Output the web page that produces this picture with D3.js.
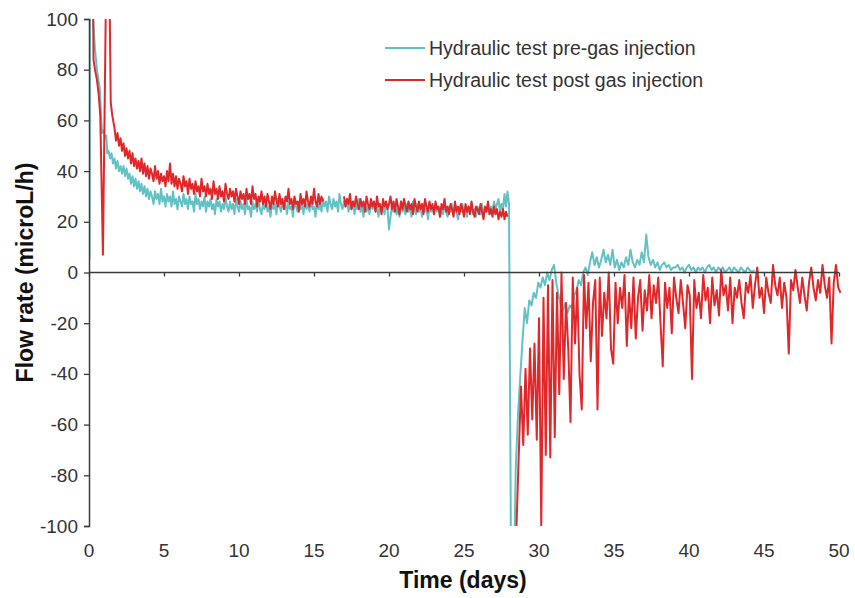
<!DOCTYPE html>
<html>
<head>
<meta charset="utf-8">
<script src="https://cdn.jsdelivr.net/npm/d3@7"></script>
<style>
  body { margin: 0; background: #fff; }
  svg { display: block; font-family: "Liberation Sans", Arial, sans-serif; }
</style>
</head>
<body>
<div id="chart"></div>
<script>
  'use strict';

  // Tick labels
  var xTicks = [0, 5, 10, 15, 20, 25, 30, 35, 40, 45, 50];
  var yTicks = [100, 80, 60, 40, 20, 0, -20, -40, -60, -80, -100];

  var seriesNames = ["Hydraulic test pre-gas injection", "Hydraulic test post gas injection"];

  // Pre-gas injection (teal). Early part read point by point (days, microL/h).
  var preEarlyT = [0.03, 0.07, 0.2, 0.27, 0.4, 0.53, 0.63, 0.73, 0.8, 0.87, 0.97, 1.07, 1.15, 1.22];
  var preEarlyV = [5, 130, 130, 100, 88, 80, 76, 72, 62, 55, 56, 53, 54, 47];

  // Pre-gas plateau, one reading every 0.1 day from day 1.3
  var prePlateauStart = 1.3;
  var prePlateau = [
    48, 45, 47, 43, 45, 41, 44, 40, 42, 39,
    42, 38, 41, 37, 39, 35, 38, 34, 37, 33,
    36, 32, 35, 31, 34, 30, 33, 29, 32, 30,
    27, 32, 29, 31, 27, 33, 28, 30, 26, 31,
    28, 30, 26, 32, 27, 29, 25, 30, 28, 26,
    31, 27, 29, 25, 30, 27, 28, 24, 31, 27,
    29, 25, 28, 26, 30, 24, 28, 26, 29, 25,
    27, 23, 29, 26, 28, 24, 27, 25, 30, 26,
    24, 28, 25, 27, 23, 29, 26, 24, 28, 25,
    27, 23, 29, 25, 26, 22, 28, 25, 27, 24,
    29, 25, 23, 27, 25, 28, 24, 26, 22, 28,
    25, 27, 23, 29, 26, 24, 28, 25, 27, 23,
    28, 25, 26, 22, 29, 26, 24, 28, 25, 27,
    23, 28, 25, 27, 24, 29, 25, 26, 22, 28,
    25, 27, 24, 29, 26, 28, 24, 30, 27, 25,
    29, 26, 28, 24, 31, 27, 25, 28, 26, 29,
    24, 27, 25, 28, 23, 27, 25, 29, 24, 26,
    22, 27, 24, 26, 23, 28, 25, 27, 24, 26,
    22, 27, 24, 26, 23, 28, 25, 17, 22, 26,
    24, 27, 23, 25, 22, 28, 24, 26, 23, 27,
    24, 26, 22, 28, 25, 23, 27, 24, 26, 22,
    27, 24, 25, 21, 27, 24, 26, 23, 27, 24,
    26, 22, 25, 23, 27, 24, 22, 26, 24, 27,
    23, 26, 24, 21, 26, 24, 27, 23, 25, 22,
    26, 24, 27, 23, 25, 22, 26, 24, 23, 27,
    22, 25, 24, 27, 23, 26, 24, 28, 25, 27,
    29, 24, 27, 25, 31, 26, 32, 27
  ];

  // Pre-gas drop and recovery, every 0.15 day from day 28.15
  var preRecoveryStart = 28.15;
  var preRecovery = [
    -130, -130, -77, -56, -41, -27, -14, -20, -11, -13, -8, -10, -4, -6, -2,
    -5, 0, -3, 1, 3, -4, -9, -13, -15, -12, -16, -13, -14, -9, -7, -3, -5, 0,
    2, -1, 4, 8, 3, 6, 2, 5, 9, 4, 7, 3, 9, 2, 5, 1, 4, 2, 6, 3, 9, 4, 2, 5,
    3, 8, 4, 15, 6, 3, 5, 2, 4, 1, 3, 4, 2, 3, 1, 2, 2, 3, 1, 2, 0, 2, 3, 1,
    2, 0, 2, 1, 2, 0, 2, 3, 1, 2, 0, 2, 1, 2, 0, 1, 2, 0, 2, 1, 0, 2, 1, 0,
    2, 1, 0, 1
  ];

  // Post gas injection (red). Early part read point by point.
  var postEarlyT = [0.07, 0.25, 0.3, 0.4, 0.53, 0.65, 0.75, 0.93, 1.17, 1.33, 1.45, 1.55];
  var postEarlyV = [130, 130, 84, 80, 76, 70, 62, 7, 130, 130, 67, 62];

  // Post gas plateau, every 0.1 day from day 1.7 (null = no record)
  var postPlateauStart = 1.7;
  var postPlateau = [
    57, 52, 55, 50, 53, 48, 51, 46, 49, 45,
    48, 43, 47, 42, 45, 41, 44, 40, 45, 39,
    43, 38, 42, 37, 41, 39, 36, 42, 37, 40,
    35, 39, 36, 38, 34, 40, 36, 43, 35, 39,
    34, 38, 33, 37, 35, 32, 38, 34, 36, 31,
    37, 33, 35, 31, 36, 32, 34, 30, 37, 32,
    34, 30, 35, 31, 33, 29, 36, 31, 33, 29,
    34, 30, 32, 28, 35, 31, 29, 33, 30, 32,
    28, 33, 30, 27, 32, 29, 31, 27, 33, 29,
    31, 27, 34, 29, 31, 26, 30, 28, 32, 27,
    30, 26, 31, 28, 25, 30, 27, 32, 28, 26,
    31, 27, 29, 25, 30, 28, 33, 27, 29, 25,
    30, 27, 28, 24, 31, 27, 29, 26, 32, 28,
    26, 30, 27, 33, 28, 26, 31, 27, 30, 28,
    null, null, null, null, null, null, null, null, null, null, null, null, null,
    30, 26, 29, 27, 31, 25, 28, 26, 30, 27,
    25, 29, 26, 28, 24, 30, 27, 25, 29, 26,
    28, 24, 30, 26, 27, 23, 29, 26, 28, 25,
    27, 30, 25, 28, 24, 29, 26, 23, 28, 25,
    29, 26, 24, 28, 25, 27, 23, 29, 26, 24,
    28, 25, 27, 23, 29, 26, 24, 28, 25, 27,
    23, 28, 25, 26, 22, 27, 25, 29, 24, 26,
    23, 27, 25, 22, 28, 24, 26, 23, 27, 25,
    22, 27, 24, 26, 23, 28, 24, 22, 26, 25,
    23, 27, 24, 21, 26, 24, 28, 23, 25, 22,
    26, 23, 25, 21, 24, 22, 25, 21, 24, 22
  ];

  // Post gas recovery, every 0.15 day from day 28.5
  var postRecoveryStart = 28.5;
  var postRecovery = [
    -100, -72, -45, -68, -38, -64, -30, -58, -28, -66, -18, -100, -10, -72, -5, -73,
    -3, -65, -8, -48, 0, -42, -12, -30, -59, -2, -28, -6, -40, -54, -1, -22,
    -4, -35, -12, -3, -54, -2, -25, -8, -18, 0, -30, -36, -4, -20, -6, -14,
    -1, -29, -8, -22, -2, -26, -10, -3, -23, -7, -15, -1, -18, -5, -12, -2,
    -20, -37, -4, -14, -6, -24, -2, -10, -16, -3, -12, -22, -5, -9, -42, -3,
    -14, -8, -18, -1, -11, -6, -20, -2, -13, -7, -17, 1, -9, -5, -15, -2,
    -20, -6, -10, -3, -12, -18, -4, -8, -1, -14, -5, 2, -10, -6, -16, -2,
    -8, -12, 3, -5, -9, -2, -14, -4, -10, -32, -3, -7, 1, -6, -12, -2,
    -9, -15, -4, 2, -6, -11, -3, -8, 3, -5, -10, -2, -28, -4, 3, -6, -8
  ];

  var width = 855, height = 598;
  var margin = { left: 89, right: 16, top: 19, bottom: 72 };
  var colors = ["#62c1c4", "#e0282b"];
  var axisColor = "#3a3a3a", labelColor = "#333";

  var x = d3.scaleLinear().domain([0, 50]).range([margin.left, width - margin.right]);
  var y = d3.scaleLinear().domain([-100, 100]).range([height - margin.bottom, margin.top]);

  // Join the explicit and regularly sampled parts into one point list.
  function points(earlyT, earlyV, parts) {
    var pts = earlyT.map(function(t, i) { return { t: t, v: earlyV[i] }; });
    parts.forEach(function(p) {
      if (p.gapBefore) pts.push({ t: p.start - p.step / 2, v: null });
      p.values.forEach(function(v, i) {
        pts.push({ t: p.start + i * p.step, v: v });
      });
    });
    return pts;
  }

  var pre = points(preEarlyT, preEarlyV, [
    { start: prePlateauStart, step: 0.1, values: prePlateau },
    { start: preRecoveryStart, step: 0.15, values: preRecovery }
  ]);
  var post = points(postEarlyT, postEarlyV, [
    { start: postPlateauStart, step: 0.1, values: postPlateau },
    { start: postRecoveryStart, step: 0.15, values: postRecovery, gapBefore: true }
  ]);

  var svg = d3.select("#chart").append("svg")
    .attr("width", width)
    .attr("height", height);

  svg.append("clipPath").attr("id", "plot")
    .append("rect")
    .attr("x", x(0)).attr("y", y(100))
    .attr("width", x(50) - x(0) + 6)
    .attr("height", y(-100) - y(100));

  var line = d3.line()
    .defined(function(d) { return d.v !== null; })
    .x(function(d) { return x(d.t); })
    .y(function(d) { return y(d.v); });

  var lines = svg.append("g").attr("clip-path", "url(#plot)");
  [pre, post].forEach(function(data, i) {
    lines.append("path")
      .datum(data)
      .attr("fill", "none")
      .attr("stroke", colors[i])
      .attr("stroke-width", 2)
      .attr("stroke-linejoin", "round")
      .attr("d", line);
  });

  // Y axis on the left
  var yAxis = svg.append("g")
    .attr("transform", "translate(" + x(0) + ",0)")
    .call(d3.axisLeft(y).tickValues(yTicks).tickSize(5).tickPadding(6)
      .tickFormat(function(d) { return String(d); }));

  // X axis sits on the zero line, labels along the bottom
  var xAxis = svg.append("g")
    .attr("transform", "translate(0," + y(0) + ")")
    .call(d3.axisBottom(x).tickValues(xTicks).tickSize(4).tickFormat(""));

  [yAxis, xAxis].forEach(function(g) {
    g.select(".domain").attr("stroke", axisColor).attr("stroke-width", 1.5);
    g.selectAll(".tick line").attr("stroke", axisColor).attr("stroke-width", 1.3);
  });
  xAxis.select(".domain").attr("d", "M" + x(0) + ",0H" + x(50));
  yAxis.selectAll(".tick text")
    .attr("font-size", 19)
    .attr("font-family", "Liberation Sans, Arial, sans-serif")
    .attr("fill", labelColor);

  svg.append("g").selectAll("text")
    .data(xTicks)
    .enter().append("text")
    .attr("x", function(d) { return x(d); })
    .attr("y", 557)
    .attr("text-anchor", "middle")
    .attr("font-size", 19)
    .attr("fill", labelColor)
    .text(function(d) { return d; });

  // Axis titles
  svg.append("text")
    .attr("x", 463).attr("y", 588)
    .attr("text-anchor", "middle")
    .attr("font-size", 23)
    .attr("font-weight", "bold")
    .attr("fill", "#111")
    .text("Time (days)");

  svg.append("text")
    .attr("transform", "translate(33," + y(0) + ") rotate(-90)")
    .attr("text-anchor", "middle")
    .attr("font-size", 23)
    .attr("font-weight", "bold")
    .attr("fill", "#111")
    .text("Flow rate (microL/h)");

  // Legend
  var legend = svg.append("g").selectAll("g")
    .data(seriesNames)
    .enter().append("g")
    .attr("transform", function(d, i) { return "translate(385," + (48 + i * 32) + ")"; });

  legend.append("line")
    .attr("x1", 0).attr("x2", 40)
    .attr("stroke", function(d, i) { return colors[i]; })
    .attr("stroke-width", 1.8);

  legend.append("text")
    .attr("x", 44).attr("y", 7)
    .attr("font-size", 19.5)
    .attr("fill", labelColor)
    .text(function(d) { return d; });
</script>
</body>
</html>
